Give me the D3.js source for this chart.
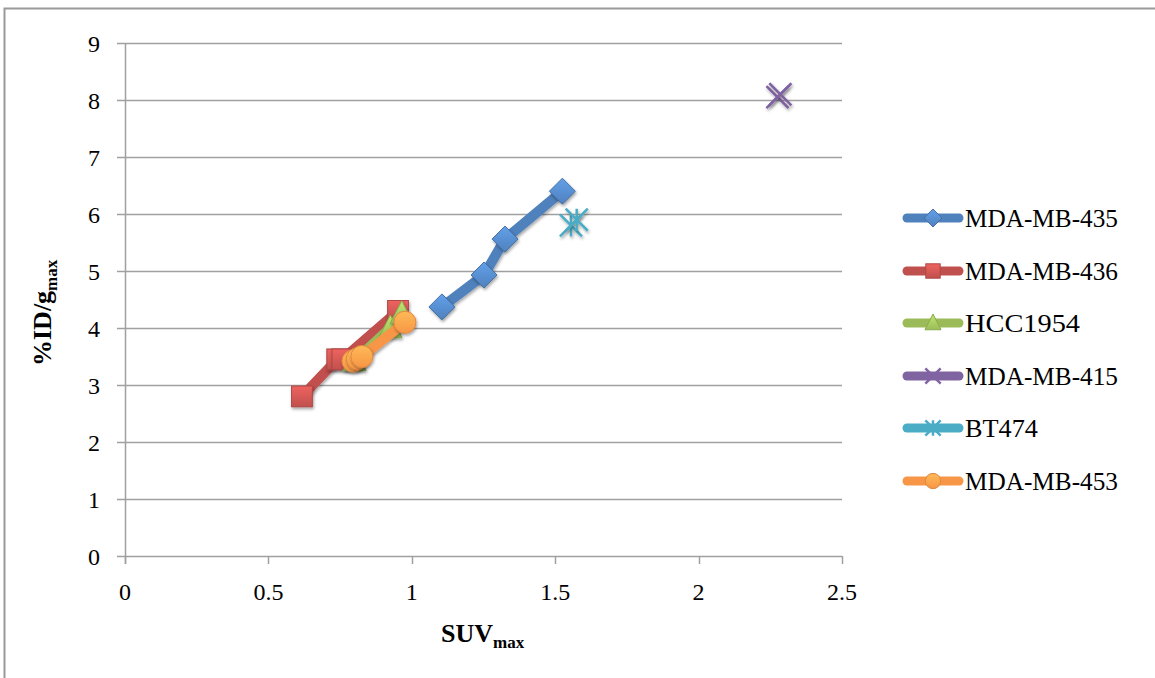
<!DOCTYPE html>
<html><head><meta charset="utf-8">
<script src="https://cdn.jsdelivr.net/npm/d3@7/dist/d3.min.js"></script>
<style>body{margin:0;background:#fff}svg{display:block}</style>
</head><body>
<svg id="c" width="1155" height="678"></svg>
<script>
const seriesNames = ["MDA-MB-435","MDA-MB-436","HCC1954","MDA-MB-415","BT474","MDA-MB-453"];
const seriesColors = ["#4f81bd","#c0504d","#9bbb59","#8064a2","#4bacc6","#f79646"];
const seriesSymbols = ["diamond","square","triangle","x","star","circle"];
const mdamb435 = [[1.105,4.37],[1.252,4.93],[1.325,5.56],[1.525,6.4]];
const mdamb436 = [[0.617,2.8],[0.74,3.45],[0.758,3.45],[0.952,4.3]];
const hcc1954 = [[0.80,3.42],[0.925,4.0],[0.965,4.25]];
const mdamb415 = [[2.275,8.05],[2.285,8.1]];
const bt474 = [[1.555,5.8],[1.575,5.9]];
const mdamb453 = [[0.795,3.42],[0.81,3.46],[0.826,3.5],[0.976,4.1]];
const seriesData = [mdamb435,mdamb436,hcc1954,mdamb415,bt474,mdamb453];
const xTicks = [0,0.5,1,1.5,2,2.5];
const xTickLabels = ["0","0.5","1","1.5","2","2.5"];
const yTicks = [0,1,2,3,4,5,6,7,8,9];

const svg = d3.select("#c");
const F = "'Liberation Serif', serif";
svg.append("rect").attr("x",4.5).attr("y",8.5).attr("width",1200).attr("height",700)
  .attr("fill","none").attr("stroke","#999").attr("stroke-width",2);

const x = d3.scaleLinear().domain([0,2.5]).range([125,842]);
const y = d3.scaleLinear().domain([0,9]).range([556,43]);
const grid = "#a0a0a0";

svg.append("g").selectAll("line").data(yTicks).join("line")
  .attr("x1",117).attr("x2",842).attr("y1",d=>Math.round(y(d))+0.5).attr("y2",d=>Math.round(y(d))+0.5)
  .attr("stroke",grid).attr("stroke-width",1.5);
svg.append("line").attr("x1",125.5).attr("x2",125.5).attr("y1",y(9)).attr("y2",564).attr("stroke",grid).attr("stroke-width",1.5);
svg.append("g").selectAll("line").data(xTicks).join("line")
  .attr("x1",d=>Math.round(x(d))+0.5).attr("x2",d=>Math.round(x(d))+0.5).attr("y1",556).attr("y2",564)
  .attr("stroke",grid).attr("stroke-width",1.5);
svg.append("g").selectAll("text").data(yTicks).join("text")
  .attr("x",100).attr("y",d=>y(d)).attr("dy","0.36em").attr("text-anchor","end")
  .attr("font-family",F).attr("font-size",24).attr("fill","#000").text(d=>d);
svg.append("g").selectAll("text").data(xTicks).join("text")
  .attr("x",d=>x(d)).attr("y",600).attr("text-anchor","middle")
  .attr("font-family",F).attr("font-size",24).attr("fill","#000").text((d,i)=>xTickLabels[i]);

const xt = svg.append("text").attr("x",441).attr("y",642).attr("font-family",F).attr("font-weight","bold").attr("font-size",26);
xt.append("tspan").text("SUV");
xt.append("tspan").attr("font-size",17).attr("dy",6).text("max");
const yt = svg.append("text").attr("transform","translate(51,366) rotate(-90)").attr("font-family",F).attr("font-weight","bold").attr("font-size",26);
yt.append("tspan").text("%ID/g");
yt.append("tspan").attr("font-size",17).attr("dy",6).text("max");

const defs = svg.append("defs");
seriesColors.forEach((c,i)=>{
  const g = defs.append("linearGradient").attr("id","g"+i).attr("x1",0).attr("y1",0).attr("x2",0).attr("y2",1);
  g.append("stop").attr("offset","0").attr("stop-color",d3.color(c).brighter(0.6));
  g.append("stop").attr("offset","1").attr("stop-color",c);
});
const f = defs.append("filter").attr("id","sh").attr("x","-50%").attr("y","-50%").attr("width","200%").attr("height","200%");
f.append("feDropShadow").attr("dx",1).attr("dy",2).attr("stdDeviation",1.5).attr("flood-color","#000").attr("flood-opacity",0.35);

function marker(sel, sym, c, i, s){
  if(sym==="diamond"){
    sel.append("path").attr("d",`M0,${-s}L${s},0L0,${s}L${-s},0Z`).attr("fill",`url(#g${i})`).attr("stroke",d3.color(c).darker(0.4)).attr("stroke-width",1);
  } else if(sym==="square"){
    sel.append("rect").attr("x",-s*0.8).attr("y",-s*0.8).attr("width",s*1.6).attr("height",s*1.6).attr("fill",`url(#g${i})`).attr("stroke",d3.color(c).darker(0.3)).attr("stroke-width",1);
  } else if(sym==="triangle"){
    sel.append("path").attr("d",`M0,${-s}L${s*0.9},${s*0.75}L${-s*0.9},${s*0.75}Z`).attr("fill",`url(#g${i})`).attr("stroke",d3.color(c).darker(0.3)).attr("stroke-width",1);
  } else if(sym==="circle"){
    sel.append("circle").attr("r",s*0.85).attr("fill",`url(#g${i})`).attr("stroke",d3.color(c).darker(0.3)).attr("stroke-width",1);
  } else if(sym==="x"){
    const k=s*0.85;
    sel.append("path").attr("d",`M${-k},${-k}L${k},${k}M${k},${-k}L${-k},${k}`).attr("stroke",c).attr("stroke-width",2.5);
  } else if(sym==="star"){
    const k=s*0.85;
    sel.append("path").attr("d",`M${-k},${-k}L${k},${k}M${k},${-k}L${-k},${k}M0,${-k}L0,${k}`).attr("stroke",c).attr("stroke-width",2.5);
  }
}

const line = d3.line().x(d=>x(d[0])).y(d=>y(d[1]));
seriesData.forEach((data,i)=>{
  const g = svg.append("g");
  if(data.length>1 && seriesSymbols[i]!=="x" && seriesSymbols[i]!=="star"){
    g.append("path").attr("d",line(data)).attr("fill","none").attr("stroke",seriesColors[i])
      .attr("stroke-width",10).attr("stroke-linejoin","round").attr("stroke-linecap","round").attr("filter","url(#sh)");
  }
  data.forEach(d=>{
    const m = g.append("g").attr("transform",`translate(${x(d[0])},${y(d[1])})`).attr("filter","url(#sh)");
    marker(m, seriesSymbols[i], seriesColors[i], i, 13);
  });
});

const legY = [218,271,323,376,428,481];
const legLen = {"HCC1954":115,"BT474":73};
seriesNames.forEach((n,i)=>{
  const g = svg.append("g").attr("transform",`translate(0,${legY[i]})`);
  g.append("line").attr("x1",907).attr("x2",959).attr("y1",0).attr("y2",0).attr("stroke",seriesColors[i]).attr("stroke-width",9).attr("stroke-linecap","round");
  const m = g.append("g").attr("transform","translate(933,0)");
  marker(m, seriesSymbols[i], seriesColors[i], i, 9);
  g.append("text").attr("x",965).attr("y",0).attr("dy","0.36em").attr("font-family",F).attr("font-size",25).attr("fill","#000")
    .attr("textLength", legLen[n] || 153).attr("lengthAdjust","spacingAndGlyphs").text(n);
});
</script>
</body></html>
